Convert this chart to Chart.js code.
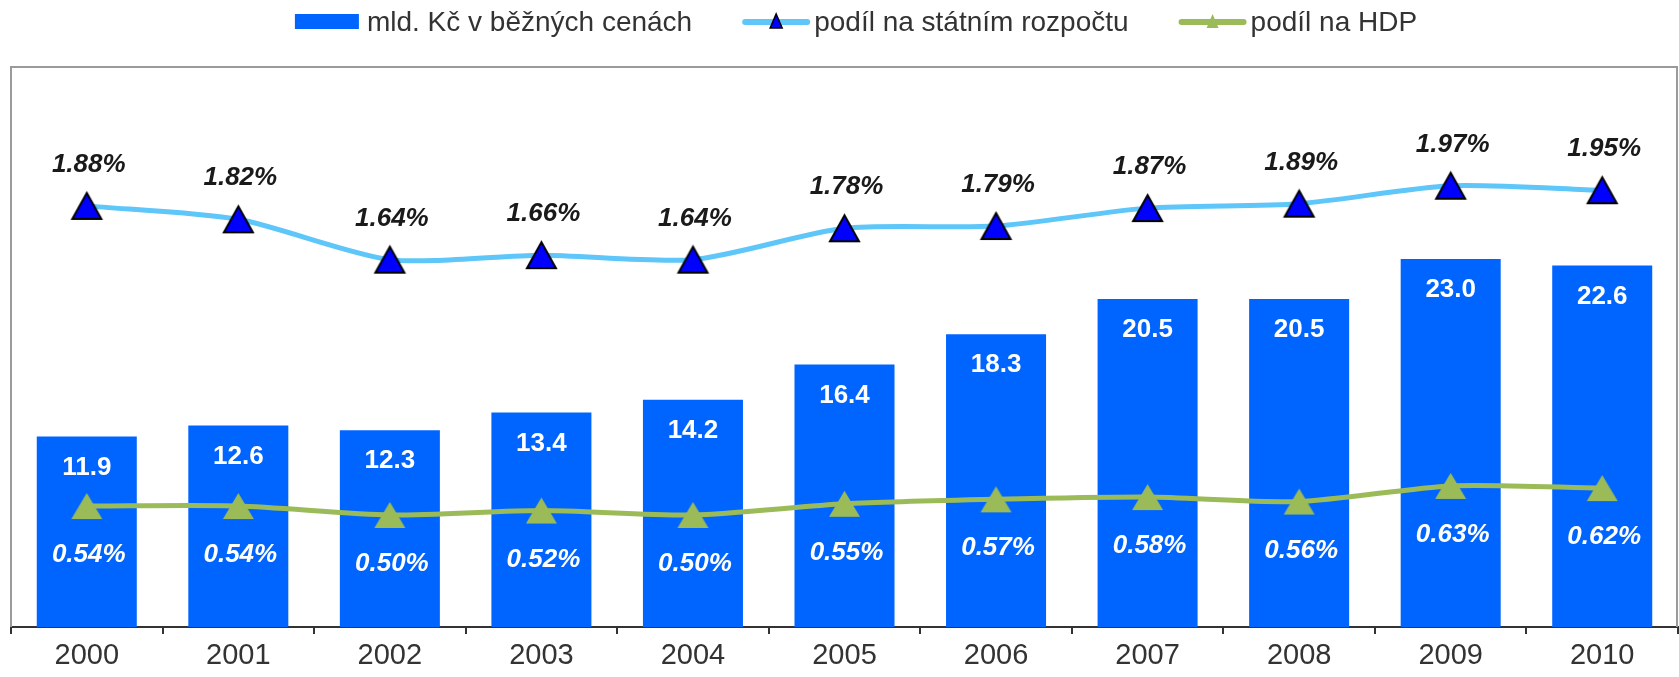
<!DOCTYPE html>
<html>
<head>
<meta charset="utf-8">
<script src="https://cdn.jsdelivr.net/npm/chart.js@4/dist/chart.umd.min.js"></script>
<style>
    html, body { margin: 0; padding: 0; background: #fff; }
    #wrap { width: 1679px; height: 677px; }
</style>
</head>
<body>
<div id="wrap"><canvas id="mainChart" width="1679" height="677"></canvas></div>
<script>
// chart data
const years = ['2000', '2001', '2002', '2003', '2004', '2005', '2006', '2007', '2008', '2009', '2010'];
const spending = [11.9, 12.6, 12.3, 13.4, 14.2, 16.4, 18.3, 20.5, 20.5, 23.0, 22.6];
const budgetShare = [1.88, 1.82, 1.64, 1.66, 1.64, 1.78, 1.79, 1.87, 1.89, 1.97, 1.95];
const gdpShare = [0.54, 0.54, 0.50, 0.52, 0.50, 0.55, 0.57, 0.58, 0.56, 0.63, 0.62];

const FONT = "'Liberation Sans', Arial, sans-serif";

// triangle marker centred on its bounding box (like Excel does)
function makeTriangle(fill, stroke, w, h, lw) {
    const c = document.createElement('canvas');
    c.width = w + lw * 2 + 2;
    c.height = h + lw * 2 + 2;
    const g = c.getContext('2d');
    const o = lw + 1;
    g.beginPath();
    g.moveTo(o + w / 2, o);
    g.lineTo(o + w, o + h);
    g.lineTo(o, o + h);
    g.closePath();
    g.fillStyle = fill;
    g.fill();
    if (lw) {
        g.lineWidth = lw;
        g.lineJoin = 'miter';
        g.strokeStyle = stroke;
        g.stroke();
    }
    return c;
}

// frame round the plot area (left, top, right)
const framePlugin = {
    id: 'frame',
    beforeDatasetsDraw(chart) {
        const { ctx, chartArea: a } = chart;
        ctx.save();
        ctx.strokeStyle = '#9a9a9a';
        ctx.lineWidth = 2;
        ctx.beginPath();
        ctx.moveTo(a.left, a.bottom);
        ctx.lineTo(a.left, a.top);
        ctx.lineTo(a.right - 1, a.top);
        ctx.lineTo(a.right - 1, a.bottom);
        ctx.stroke();
        ctx.restore();
    }
};

// value labels on bars and points
const labelPlugin = {
    id: 'valueLabels',
    afterDatasetsDraw(chart) {
        const ctx = chart.ctx;
        ctx.save();
        ctx.textAlign = 'center';
        ctx.textBaseline = 'middle';

        chart.getDatasetMeta(0).data.forEach((bar, i) => {
            ctx.font = 'bold 26px ' + FONT;
            ctx.fillStyle = '#ffffff';
            ctx.fillText(spending[i].toFixed(1), bar.x, bar.y + 31);
        });
        chart.getDatasetMeta(1).data.forEach((pt, i) => {
            ctx.font = 'italic bold 26px ' + FONT;
            ctx.fillStyle = '#1a1a1a';
            ctx.fillText(budgetShare[i].toFixed(2) + '%', pt.x + 2, pt.y - 41);
        });
        chart.getDatasetMeta(2).data.forEach((pt, i) => {
            ctx.font = 'italic bold 26px ' + FONT;
            ctx.fillStyle = '#ffffff';
            ctx.fillText(gdpShare[i].toFixed(2) + '%', pt.x + 2, pt.y + 49);
        });
        ctx.restore();
    }
};

// legend drawn by hand so the line swatches keep their markers
const legendPlugin = {
    id: 'topLegend',
    afterDraw(chart) {
        const ctx = chart.ctx;
        const ds = chart.data.datasets;
        const swatchW = 68, gapText = 4, gapItem = 50, cy = 22;
        ctx.save();
        ctx.font = '28px ' + FONT;
        ctx.textBaseline = 'middle';
        const widths = ds.map(d => swatchW + gapText + ctx.measureText(d.label).width);
        const total = widths.reduce((s, w) => s + w, 0) + gapItem * (ds.length - 1);
        let x = 856 - total / 2;
        ds.forEach((d, i) => {
            if (d.type === 'bar') {
                ctx.fillStyle = d.backgroundColor;
                ctx.fillRect(x, cy - 8, 64, 15);
            } else {
                ctx.strokeStyle = d.borderColor;
                ctx.lineWidth = 6;
                ctx.lineCap = 'round';
                ctx.beginPath();
                ctx.moveTo(x + 3, cy);
                ctx.lineTo(x + swatchW - 3, cy);
                ctx.stroke();
                const mx = x + swatchW / 2;
                ctx.fillStyle = d.legendFill;
                ctx.strokeStyle = '#000000';
                ctx.lineWidth = 1.5;
                ctx.beginPath();
                ctx.moveTo(mx, cy - 8);
                ctx.lineTo(mx + 6, cy + 6);
                ctx.lineTo(mx - 6, cy + 6);
                ctx.closePath();
                ctx.fill();
                if (d.legendStroke) ctx.stroke();
            }
            ctx.fillStyle = '#333333';
            ctx.fillText(d.label, x + swatchW + gapText, cy + 1);
            x += widths[i] + gapItem;
        });
        ctx.restore();
    }
};

document.addEventListener('DOMContentLoaded', () => {
    const ctx = document.getElementById('mainChart').getContext('2d');
    const blueTri = makeTriangle('#0000ff', '#000000', 29, 26, 2);
    const greenTri = makeTriangle('#9bbb59', null, 31, 26, 0);

    new Chart(ctx, {
        data: {
            labels: years,
            datasets: [{
                type: 'bar',
                label: 'mld. Kč v běžných cenách',
                data: spending,
                backgroundColor: '#0064ff',
                yAxisID: 'y',
                categoryPercentage: 1,
                barPercentage: 0.66,
                order: 2
            }, {
                type: 'line',
                label: 'podíl na státním rozpočtu',
                data: budgetShare,
                borderColor: '#5ec6f8',
                borderWidth: 5,
                tension: 0.25,
                pointStyle: blueTri,
                pointRadius: 16,
                legendFill: '#0000ff',
                legendStroke: true,
                yAxisID: 'y1',
                order: 1
            }, {
                type: 'line',
                label: 'podíl na HDP',
                data: gdpShare,
                borderColor: '#9bbb59',
                borderWidth: 5,
                tension: 0.25,
                pointStyle: greenTri,
                pointRadius: 16,
                legendFill: '#9bbb59',
                legendStroke: false,
                yAxisID: 'y1',
                order: 0
            }]
        },
        options: {
            responsive: false,
            animation: false,
            layout: {
                autoPadding: false,
                padding: { top: 67, left: 11, right: 1, bottom: 0 }
            },
            plugins: {
                legend: { display: false },
                tooltip: { enabled: false }
            },
            scales: {
                x: {
                    offset: true,
                    grid: {
                        offset: true,
                        drawOnChartArea: false,
                        color: '#333333',
                        lineWidth: 2,
                        tickLength: 7
                    },
                    border: { color: '#333333', width: 2 },
                    ticks: {
                        color: '#333333',
                        padding: 7,
                        font: { family: FONT, size: 29, lineHeight: 1.0 }
                    }
                },
                y: {
                    display: false,
                    min: 0,
                    max: 35
                },
                y1: {
                    display: false,
                    min: 0,
                    max: 2.5
                }
            }
        },
        plugins: [framePlugin, labelPlugin, legendPlugin]
    });
});
</script>
</body>
</html>
